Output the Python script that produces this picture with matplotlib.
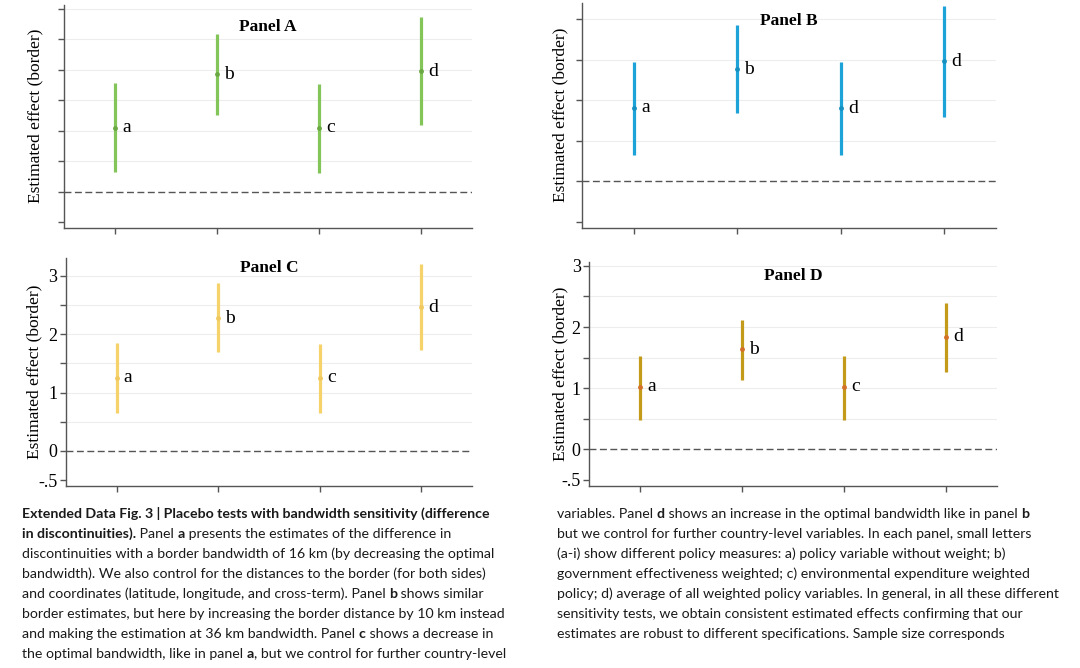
import matplotlib
matplotlib.use("Agg")
import matplotlib.pyplot as plt

# policy measures on the x axis
positions = [1, 2, 3, 4]

# panel A: point estimate and 95% CI bounds
a_labels = ["a", "b", "c", "d"]
a_est = [1.05, 1.93, 1.05, 1.98]
a_low = [0.33, 1.26, 0.31, 1.10]
a_high = [1.79, 2.59, 1.77, 2.87]

# panel B
b_labels = ["a", "b", "d", "d"]
b_est = [0.91, 1.38, 0.90, 1.48]
b_low = [0.32, 0.84, 0.32, 0.79]
b_high = [1.47, 1.93, 1.47, 2.16]

# panel C
c_labels = ["a", "b", "c", "d"]
c_est = [1.25, 2.27, 1.25, 2.46]
c_low = [0.65, 1.69, 0.65, 1.73]
c_high = [1.85, 2.87, 1.83, 3.20]

# panel D
d_labels = ["a", "b", "c", "d"]
d_est = [1.02, 1.64, 1.02, 1.84]
d_low = [0.48, 1.14, 0.48, 1.26]
d_high = [1.53, 2.11, 1.53, 2.40]

ytick_vals = [-0.5, 0, 0.5, 1, 1.5, 2, 2.5, 3]
ytick_text = ["-.5", "0", "", "1", "", "2", "", "3"]

SERIF = "Liberation Serif"

fig = plt.figure(figsize=(10.8, 6.68), dpi=100)


def panel(rect, title, labels, est, low, high, color, dot, ylim, title_y, show_labels, lab_x):
    ax = fig.add_axes(rect)
    ax.set_xlim(0.5, 4.5)
    ax.set_ylim(*ylim)
    for v in ytick_vals:
        if v > 0 and v <= ylim[1]:
            ax.axhline(v, color="#ededed", lw=0.8, zorder=0)
    ax.axhline(0, color="#555555", lw=1.0, ls=(0, (5, 2.5)), zorder=1)
    ax.vlines(positions, low, high, color=color, lw=2.3, zorder=2)
    ax.scatter(positions, est, s=6, color=dot, zorder=3)
    for x, y, t in zip(positions, est, labels):
        ax.text(x + 0.07, y, t, fontsize=14, family=SERIF, va="center", ha="left")
    ax.text(0.5, title_y, title, transform=ax.transAxes, ha="center", va="center",
            fontsize=12.5, fontweight="bold", family=SERIF)
    ax.set_xticks(positions)
    ax.set_xticklabels([])
    vals = [v for v in ytick_vals if v <= ylim[1]]
    ax.set_yticks(vals)
    if show_labels:
        ax.set_yticklabels([t for v, t in zip(ytick_vals, ytick_text) if v <= ylim[1]],
                           fontsize=13, family=SERIF)
    else:
        ax.set_yticklabels([])
    ax.tick_params(axis="both", direction="out", length=4, color="#555555", width=1, pad=2)
    ax.set_ylabel("Estimated effect (border)", fontsize=12.5, family=SERIF)
    ax.yaxis.set_label_coords(lab_x, 0.5)
    for s in ["top", "right"]:
        ax.spines[s].set_visible(False)
    for s in ["left", "bottom"]:
        ax.spines[s].set_color("#555555")
        ax.spines[s].set_linewidth(1.0)
    return ax


panel([0.059, 0.659, 0.378, 0.334], "Panel A", a_labels, a_est, a_low, a_high,
      "#84c55a", "#6aa843", (-0.59, 3.07), 0.9, False, -0.051)
panel([0.539, 0.659, 0.383, 0.337], "Panel B", b_labels, b_est, b_low, b_high,
      "#1ea3d8", "#1590c0", (-0.57, 2.2), 0.92, False, -0.034)
panel([0.061, 0.2725, 0.376, 0.341], "Panel C", c_labels, c_est, c_low, c_high,
      "#f5d36a", "#f0c860", (-0.6, 3.3), 0.955, True, -0.059)
panel([0.5454, 0.2725, 0.3777, 0.335], "Panel D", d_labels, d_est, d_low, d_high,
      "#c39a1a", "#d4702a", (-0.6, 3.06), 0.94, True, -0.051)

# caption, drawn in two columns with bold runs
CAP = "Lato"
cap_size = 10.2

left_lines = [
    [("Extended Data Fig. 3 | Placebo tests with bandwidth sensitivity (difference", True)],
    [("in discontinuities).", True), (" Panel ", False), ("a", True),
     (" presents the estimates of the difference in", False)],
    [("discontinuities with a border bandwidth of 16 km (by decreasing the optimal", False)],
    [("bandwidth). We also control for the distances to the border (for both sides)", False)],
    [("and coordinates (latitude, longitude, and cross-term). Panel ", False), ("b", True),
     (" shows similar", False)],
    [("border estimates, but here by increasing the border distance by 10 km instead", False)],
    [("and making the estimation at 36 km bandwidth. Panel ", False), ("c", True),
     (" shows a decrease in", False)],
    [("the optimal bandwidth, like in panel ", False), ("a", True),
     (", but we control for further country-level", False)],
]
right_lines = [
    [("variables. Panel ", False), ("d", True),
     (" shows an increase in the optimal bandwidth like in panel ", False), ("b", True)],
    [("but we control for further country-level variables. In each panel, small letters", False)],
    [("(a-i) show different policy measures: a) policy variable without weight; b)", False)],
    [("government effectiveness weighted; c) environmental expenditure weighted", False)],
    [("policy; d) average of all weighted policy variables. In general, in all these different", False)],
    [("sensitivity tests, we obtain consistent estimated effects confirming that our", False)],
    [("estimates are robust to different specifications. Sample size corresponds", False)],
]

renderer = fig.canvas.get_renderer()


def write_lines(lines, x0, y0, step):
    for i, line in enumerate(lines):
        y = y0 - i * step
        x = x0
        for txt, bold in line:
            t = fig.text(x, y, txt, ha="left", va="baseline", fontsize=cap_size,
                         family=CAP, color="#1a1a1a",
                         fontweight="bold" if bold else "normal")
            x += t.get_window_extent(renderer).width / fig.bbox.width


write_lines(left_lines, 22 / 1080, 1 - 518 / 668, 20 / 668)
write_lines(right_lines, 557 / 1080, 1 - 518 / 668, 20 / 668)

fig.savefig("out.png", dpi=100)
